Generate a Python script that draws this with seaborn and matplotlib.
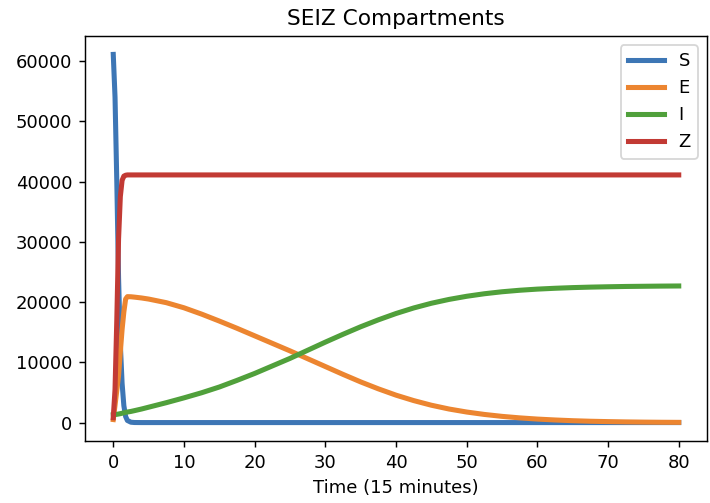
import numpy as np
import pandas as pd
import matplotlib
matplotlib.use("Agg")
import matplotlib.pyplot as plt
import seaborn as sns

# Time steps (units of 15 minutes)
time = [0, 0.25, 0.5, 0.75, 1, 1.25, 1.5, 1.75, 2, 2.5, 3, 4, 5,
        7.5, 10, 12.5, 15, 17.5, 20, 22.5, 25, 27.5, 30, 32.5, 35,
        37.5, 40, 42.5, 45, 47.5, 50, 52.5, 55, 57.5, 60, 62.5, 65,
        67.5, 70, 72.5, 75, 77.5, 80]

# Susceptible
S = [61100, 54000, 40000, 24000, 13000, 6500, 2800, 1000, 350, 60, 10, 0, 0,
     0, 0, 0, 0, 0, 0, 0, 0, 0, 0, 0, 0,
     0, 0, 0, 0, 0, 0, 0, 0, 0, 0, 0, 0,
     0, 0, 0, 0, 0, 0]

# Exposed
E = [500, 2870, 5330, 7780, 11720, 15450, 18380, 20500, 20900, 20880, 20820, 20680, 20500,
     19900, 19050, 18000, 16850, 15650, 14400, 13150, 11900, 10600, 9300, 8000, 6750,
     5600, 4550, 3650, 2880, 2250, 1750, 1350, 1030, 780, 580, 430, 310,
     220, 160, 110, 75, 50, 35]

# Infected (believers)
I = [1300, 1330, 1370, 1420, 1480, 1550, 1620, 1700, 1750, 1850, 1980, 2250, 2550,
     3300, 4100, 4950, 5900, 7000, 8150, 9400, 10650, 12000, 13350, 14650, 15900,
     17050, 18100, 19020, 19800, 20440, 20960, 21380, 21710, 21960, 22150, 22290, 22400,
     22480, 22540, 22590, 22620, 22650, 22670]

# Skeptics
Z = [800, 5500, 17000, 30500, 37500, 40200, 40900, 41050, 41100, 41100, 41100, 41100, 41100,
     41100, 41100, 41100, 41100, 41100, 41100, 41100, 41100, 41100, 41100, 41100, 41100,
     41100, 41100, 41100, 41100, 41100, 41100, 41100, 41100, 41100, 41100, 41100, 41100,
     41100, 41100, 41100, 41100, 41100, 41100]

names = ["S", "E", "I", "Z"]
colors = ["#3d76b5", "#ec8530", "#50a03b", "#c23a34"]

df = pd.DataFrame({"time": time, "S": S, "E": E, "I": I, "Z": Z})

fig, ax = plt.subplots(figsize=(710 / 130, 503 / 130), dpi=130)
fig.subplots_adjust(left=0.1197, right=0.9958, top=0.9284, bottom=0.1233)

for name, color in zip(names, colors):
    sns.lineplot(data=df, x="time", y=name, ax=ax, color=color,
                 linewidth=2.8, label=name)

ax.set_title("SEIZ Compartments")
ax.set_xlabel("Time (15 minutes)")
ax.set_ylabel("")
ax.set_xticks(range(0, 81, 10))
ax.set_yticks(range(0, 60001, 10000))
ax.legend(loc="upper right")

fig.savefig("out.png", dpi=130)
